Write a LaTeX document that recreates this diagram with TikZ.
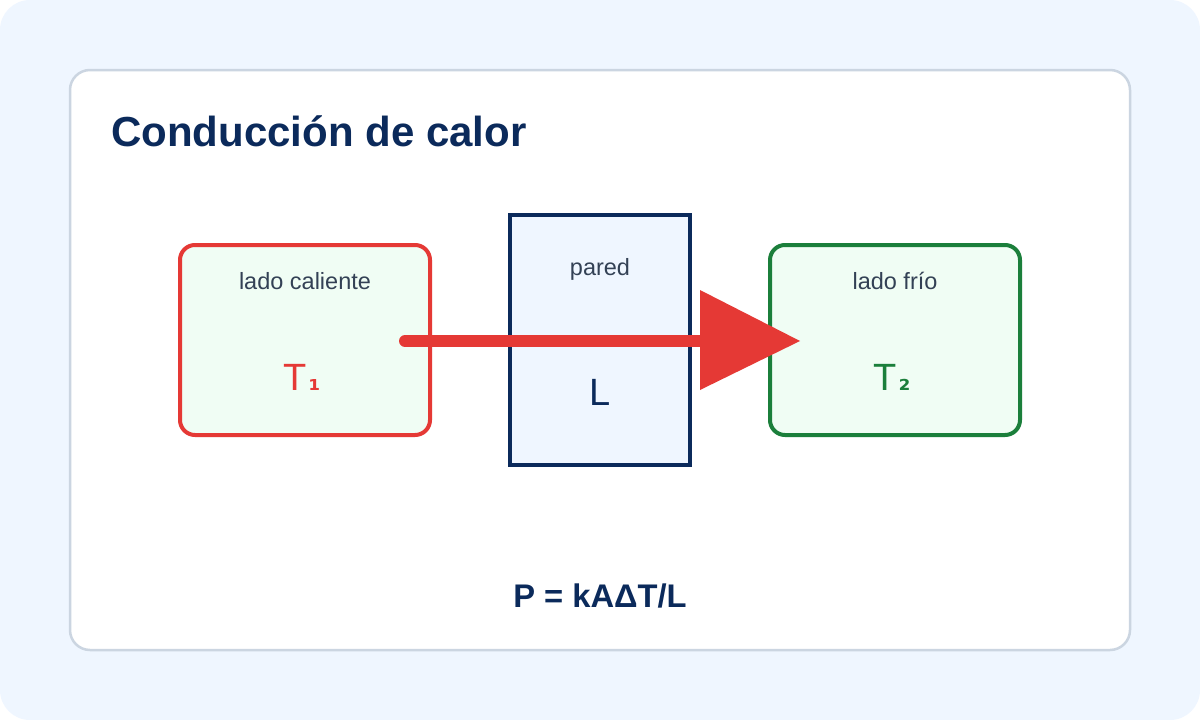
\documentclass[tikz,border=0pt]{standalone}
\usepackage{fontspec}
\setmainfont{Liberation Sans}
\newfontfamily\subfont{DejaVu Sans}
\definecolor{bgblue}{HTML}{EFF6FF}
\definecolor{cardline}{HTML}{CBD5E1}
\definecolor{navy}{HTML}{0B2A5B}
\definecolor{hotred}{HTML}{E53935}
\definecolor{coldgreen}{HTML}{1B7F3B}
\definecolor{palegreen}{HTML}{F0FDF4}
\definecolor{slate}{HTML}{334155}
\begin{document}
\begin{tikzpicture}[x=1pt,y=-1pt,
  sidebox/.style={rounded corners=15pt,line width=4pt,fill=palegreen},
  smalllabel/.style={text=slate,font=\fontsize{23.5}{27}\selectfont,anchor=base,inner sep=0pt},
  biglabel/.style={font=\fontsize{38}{44}\selectfont,anchor=base,inner sep=0pt}]
\useasboundingbox (0,0) rectangle (1200,720);
\fill[white] (0,0) rectangle (1200,720);
\fill[bgblue,rounded corners=30pt] (0,0) rectangle (1200,720);
\draw[cardline,line width=2.5pt,fill=white,rounded corners=20pt] (70,70) rectangle (1130,650);
\node[anchor=base west,inner sep=0pt,text=navy,font=\fontsize{42}{50}\selectfont\bfseries] (title) at (111,146.5) {Conducción de calor};
\draw[sidebox,draw=hotred] (180,245) rectangle (430,435);
\draw[sidebox,draw=coldgreen] (770,245) rectangle (1020,435);
\draw[navy,line width=4pt,fill=bgblue] (510,215) rectangle (690,465);
\node[smalllabel] (hotlbl) at (305,289.3) {lado caliente};
\node[smalllabel] (walllbl) at (600,275) {pared};
\node[smalllabel] (coldlbl) at (895,289.3) {lado frío};
\node[biglabel,text=hotred] (t1) at (302,390) {T\hspace{2pt}{\subfont\fontsize{27}{30}\selectfont\bfseries ₁}};
\node[biglabel,text=coldgreen] (t2) at (892,390) {T\hspace{2pt}{\subfont\fontsize{27}{30}\selectfont\bfseries ₂}};
\node[biglabel,text=navy] (L) at (600.5,405) {L};
\coordinate (astart) at (405,341);
\coordinate (abase) at (700,341);
\coordinate (atip) at (800,341);
\draw[hotred,line width=12pt,line cap=round] (astart) -- (abase);
\fill[hotred] (700,290) -- (atip) -- (700,390) -- cycle;
\node[anchor=base,inner sep=0pt,text=navy,font=\fontsize{32.7}{38}\selectfont\bfseries] (formula) at (600,607) {P = kAΔT/L};
\end{tikzpicture}
\end{document}
